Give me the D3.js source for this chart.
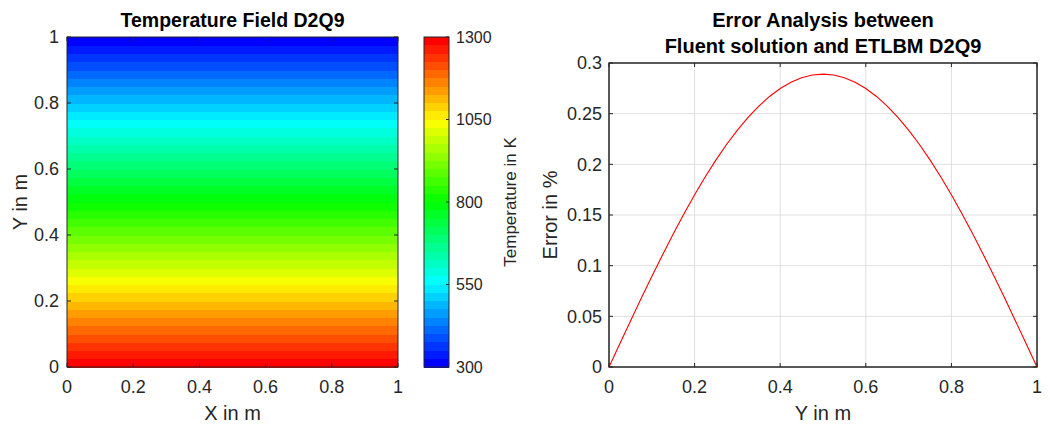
<!DOCTYPE html>
<html><head><meta charset="utf-8">
<script src="https://cdn.jsdelivr.net/npm/d3@7"></script>
<style>
html,body{margin:0;padding:0;background:#fff;}
svg{display:block;font-family:"Liberation Sans",Arial,sans-serif;}
</style></head>
<body><svg id="c" width="1050" height="426"></svg>
<script>
// ---- data ----
// Temperature field: contour band edges along Y (m) and temperature at each edge (K)
const fieldY = [0,0.025,0.05,0.075,0.1,0.125,0.15,0.175,0.2,0.225,0.25,0.275,0.3,0.325,0.35,0.375,0.4,0.425,0.45,0.475,0.5,
                0.525,0.55,0.575,0.6,0.625,0.65,0.675,0.7,0.725,0.75,0.775,0.8,0.825,0.85,0.875,0.9,0.925,0.95,0.975,1];
const fieldT = [1300,1275,1250,1225,1200,1175,1150,1125,1100,1075,1050,1025,1000,975,950,925,900,875,850,825,800,
                775,750,725,700,675,650,625,600,575,550,525,500,475,450,425,400,375,350,325,300];
const axisTicks = [0,0.2,0.4,0.6,0.8,1];
const cbarTicks = [300,550,800,1050,1300];
const cmapStops = ["#0000ff","#00ffff","#00ff00","#ffff00","#ff0000"];
// Error analysis
const errY = [0,0.025,0.05,0.075,0.1,0.125,0.15,0.175,0.2,0.225,0.25,0.275,0.3,0.325,0.35,0.375,0.4,0.425,0.45,0.475,0.5,
              0.525,0.55,0.575,0.6,0.625,0.65,0.675,0.7,0.725,0.75,0.775,0.8,0.825,0.85,0.875,0.9,0.925,0.95,0.975,1];
const errV = [0,0.0227,0.0452,0.0675,0.0893,0.1106,0.1312,0.1510,0.1699,0.1877,0.2044,0.2198,0.2338,0.2464,0.2575,0.2670,0.2749,0.2810,0.2854,0.2881,0.289,
              0.2881,0.2854,0.2810,0.2749,0.2670,0.2575,0.2464,0.2338,0.2198,0.2044,0.1877,0.1699,0.1510,0.1312,0.1106,0.0893,0.0675,0.0452,0.0227,0];
const errTicksY = [0,0.05,0.1,0.15,0.2,0.25,0.3];

// ---- drawing ----
const svg = d3.select("#c");
svg.append("rect").attr("width",1050).attr("height",426).attr("fill","#fff");
const AX = "#262626";
const fmt = d => String(+d.toFixed(4));

// colour scale (band midpoints)
const tMin = 300, tMax = 1300, nb = fieldT.length - 1, dT = (tMax - tMin) / nb;
const color = d3.scaleLinear()
  .domain([tMin + dT/2, 556.25, 800, 1043.75, tMax - dT/2])
  .range(cmapStops).clamp(true);

// ---- left panel ----
const L = {x0:67, x1:398, y0:37, y1:367};
const lx = d3.scaleLinear().domain([0,1]).range([L.x0, L.x1]);
const ly = d3.scaleLinear().domain([0,1]).range([L.y1, L.y0]);
const gL = svg.append("g");
const bands = d3.range(nb).map(i => ({ya: fieldY[i], yb: fieldY[i+1], t: (fieldT[i] + fieldT[i+1]) / 2}));
gL.selectAll("rect.band").data(bands).join("rect")
  .attr("x", lx(0)).attr("width", lx(1) - lx(0))
  .attr("y", d => ly(d.yb)).attr("height", d => ly(d.ya) - ly(d.yb) + 0.5)
  .attr("fill", d => color(d.t)).attr("shape-rendering","crispEdges");

function frame(g, xs, ys, xt, yt, opts) {
  const [x0, x1] = xs.range(), [y1, y0] = ys.range();
  if (opts.grid) {
    xt.forEach(v => g.append("line").attr("x1", xs(v)).attr("x2", xs(v)).attr("y1", y0).attr("y2", y1).attr("stroke","#dfdfdf").attr("stroke-width",1));
    yt.forEach(v => g.append("line").attr("x1", x0).attr("x2", x1).attr("y1", ys(v)).attr("y2", ys(v)).attr("stroke","#dfdfdf").attr("stroke-width",1));
  }
  const tl = 4;
  xt.forEach(v => {
    g.append("line").attr("x1", xs(v)).attr("x2", xs(v)).attr("y1", y1).attr("y2", y1 - tl).attr("stroke", AX);
    g.append("line").attr("x1", xs(v)).attr("x2", xs(v)).attr("y1", y0).attr("y2", y0 + tl).attr("stroke", AX);
    g.append("text").attr("x", xs(v)).attr("y", y1 + 26).attr("text-anchor","middle")
      .attr("font-size", 18).attr("fill", AX).text(fmt(v));
  });
  yt.forEach(v => {
    g.append("line").attr("x1", x0).attr("x2", x0 + tl).attr("y1", ys(v)).attr("y2", ys(v)).attr("stroke", AX);
    g.append("line").attr("x1", x1).attr("x2", x1 - tl).attr("y1", ys(v)).attr("y2", ys(v)).attr("stroke", AX);
    g.append("text").attr("x", x0 - opts.ygap).attr("y", ys(v)).attr("dy","0.36em").attr("text-anchor","end")
      .attr("font-size", 18).attr("fill", AX).text(fmt(v));
  });
  g.append("rect").attr("x", x0).attr("y", y0).attr("width", x1 - x0).attr("height", y1 - y0)
    .attr("fill","none").attr("stroke", AX).attr("stroke-width", 1);
}
frame(gL, lx, ly, axisTicks, axisTicks, {grid:false, ygap:8});

gL.append("text").attr("x", (L.x0 + L.x1) / 2).attr("y", 27).attr("text-anchor","middle")
  .attr("font-size", 19.5).attr("font-weight","bold").attr("fill","#000").text("Temperature Field D2Q9");
gL.append("text").attr("x", (L.x0 + L.x1) / 2).attr("y", 420).attr("text-anchor","middle")
  .attr("font-size", 20).attr("fill", AX).text("X in m");
gL.append("text").attr("transform", `translate(27,${(L.y0 + L.y1) / 2}) rotate(-90)`).attr("text-anchor","middle")
  .attr("font-size", 20).attr("fill", AX).text("Y in m");

// colorbar
const C = {x0:424, x1:449, y0:37, y1:367};
const cy = d3.scaleLinear().domain([tMin, tMax]).range([C.y1, C.y0]);
const gC = svg.append("g");
gC.selectAll("rect").data(bands).join("rect")
  .attr("x", C.x0).attr("width", C.x1 - C.x0)
  .attr("y", d => cy(d.t + dT/2)).attr("height", d => cy(d.t - dT/2) - cy(d.t + dT/2) + 0.5)
  .attr("fill", d => color(d.t)).attr("shape-rendering","crispEdges");
cbarTicks.forEach(v => {
  gC.append("line").attr("x1", C.x1).attr("x2", C.x1 - 3).attr("y1", cy(v)).attr("y2", cy(v)).attr("stroke", AX);
  gC.append("text").attr("x", C.x1 + 7).attr("y", cy(v)).attr("dy","0.36em").attr("font-size", 16).attr("fill", AX).text(v);
});
gC.append("rect").attr("x", C.x0).attr("y", C.y0).attr("width", C.x1 - C.x0).attr("height", C.y1 - C.y0)
  .attr("fill","none").attr("stroke", AX);
gC.append("text").attr("transform", `translate(516,${(C.y0 + C.y1) / 2}) rotate(-90)`).attr("text-anchor","middle")
  .attr("font-size", 17).attr("fill", AX).text("Temperature in K");

// ---- right panel ----
const R = {x0:609, x1:1037, y0:63, y1:367};
const rx = d3.scaleLinear().domain([0,1]).range([R.x0, R.x1]);
const ry = d3.scaleLinear().domain([0,0.3]).range([R.y1, R.y0]);
const gR = svg.append("g");
frame(gR, rx, ry, axisTicks, errTicksY, {grid:true, ygap:7});
gR.append("path").datum(d3.zip(errY, errV))
  .attr("d", d3.line().x(d => rx(d[0])).y(d => ry(d[1])))
  .attr("fill","none").attr("stroke","#ff0000").attr("stroke-width",1.1);
gR.append("rect").attr("x", R.x0).attr("y", R.y0).attr("width", R.x1 - R.x0).attr("height", R.y1 - R.y0)
  .attr("fill","none").attr("stroke", AX);
const tcx = (R.x0 + R.x1) / 2;
gR.append("text").attr("x", tcx).attr("y", 27).attr("text-anchor","middle")
  .attr("font-size", 20).attr("font-weight","bold").attr("fill","#000").text("Error Analysis between");
gR.append("text").attr("x", tcx).attr("y", 53).attr("text-anchor","middle")
  .attr("font-size", 20).attr("font-weight","bold").attr("fill","#000").text("Fluent solution and ETLBM D2Q9");
gR.append("text").attr("x", tcx).attr("y", 420).attr("text-anchor","middle")
  .attr("font-size", 20).attr("fill", AX).text("Y in m");
gR.append("text").attr("transform", `translate(557,${(R.y0 + R.y1) / 2}) rotate(-90)`).attr("text-anchor","middle")
  .attr("font-size", 20).attr("fill", AX).text("Error in %");
</script></body></html>
